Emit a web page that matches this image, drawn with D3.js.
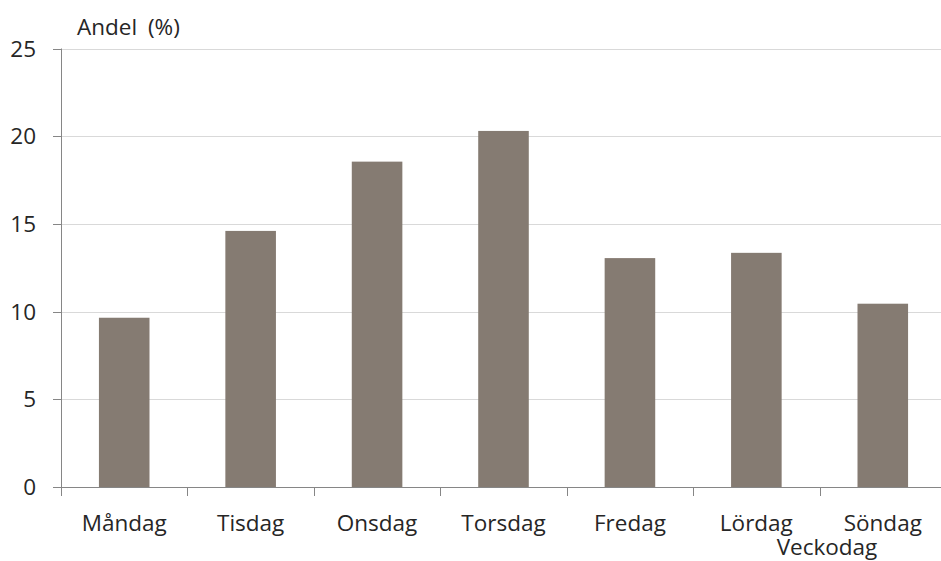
<!DOCTYPE html>
<html>
<head>
<meta charset="utf-8">
<script src="https://cdn.jsdelivr.net/npm/d3@7"></script>
<style>
  body { margin: 0; background: #fff; }
  text { font-family: "Open Sans", sans-serif; fill: #262626; }
</style>
</head>
<body>
<div id="chart"></div>
<script>
  var days = ['Måndag', 'Tisdag', 'Onsdag', 'Torsdag', 'Fredag', 'Lördag', 'Söndag'];
  var andel = [9.65, 14.6, 18.55, 20.3, 13.05, 13.35, 10.45];
  var yTicks = [0, 5, 10, 15, 20, 25];

  (function () {
    'use strict';

    var w = 941, h = 561,
        plotLeft = 61, plotRight = 946,     // plot runs a little past the window edge
        plotTop = 48.5, plotBottom = 487,
        fontSize = '22.5px',
        barColor = '#857b72',
        axisColor = '#868686';

    var svg = d3.select('#chart')
        .append('svg')
        .attr('width', w)
        .attr('height', h);

    var x = d3.scaleBand()
        .domain(days)
        .range([plotLeft, plotRight])
        .paddingInner(0.6)
        .paddingOuter(0.3);

    var y = d3.scaleLinear()
        .domain([0, 25])
        .range([plotBottom, plotTop]);

    // gridlines
    svg.append('g')
        .selectAll('line')
        .data(yTicks.slice(1))
        .enter().append('line')
        .attr('x1', plotLeft)
        .attr('x2', w)
        .attr('y1', function (d) { return Math.round(y(d)) + 0.5; })
        .attr('y2', function (d) { return Math.round(y(d)) + 0.5; })
        .attr('stroke', '#d9d9d9')
        .attr('stroke-width', 1);

    // bars
    svg.append('g')
        .selectAll('rect')
        .data(andel)
        .enter().append('rect')
        .attr('x', function (d, i) { return x(days[i]); })
        .attr('width', x.bandwidth())
        .attr('y', function (d) { return y(d); })
        .attr('height', function (d) { return plotBottom - y(d); })
        .attr('fill', barColor);

    // y axis
    var yAxis = svg.append('g');
    yAxis.append('line')
        .attr('x1', plotLeft + 0.5).attr('x2', plotLeft + 0.5)
        .attr('y1', plotTop).attr('y2', plotBottom)
        .attr('stroke', axisColor);
    yAxis.selectAll('.tick')
        .data(yTicks)
        .enter().append('line')
        .attr('class', 'tick')
        .attr('x1', plotLeft - 8).attr('x2', plotLeft)
        .attr('y1', function (d) { return Math.round(y(d)) + 0.5; })
        .attr('y2', function (d) { return Math.round(y(d)) + 0.5; })
        .attr('stroke', axisColor);
    yAxis.selectAll('text')
        .data(yTicks)
        .enter().append('text')
        .attr('x', 36)
        .attr('y', function (d) { return y(d); })
        .attr('dy', '0.36em')
        .attr('text-anchor', 'end')
        .style('font-size', fontSize)
        .text(function (d) { return d; });

    // x axis
    var xAxis = svg.append('g');
    xAxis.append('line')
        .attr('x1', plotLeft).attr('x2', w)
        .attr('y1', plotBottom + 0.5).attr('y2', plotBottom + 0.5)
        .attr('stroke', axisColor);
    xAxis.selectAll('.tick')
        .data(d3.range(days.length + 1))
        .enter().append('line')
        .attr('class', 'tick')
        .attr('x1', function (i) { return Math.round(plotLeft + i * x.step()) + 0.5; })
        .attr('x2', function (i) { return Math.round(plotLeft + i * x.step()) + 0.5; })
        .attr('y1', plotBottom).attr('y2', plotBottom + 9)
        .attr('stroke', axisColor);
    xAxis.selectAll('text')
        .data(days)
        .enter().append('text')
        .attr('x', function (d) { return x(d) + x.bandwidth() / 2; })
        .attr('y', 531)
        .attr('text-anchor', 'middle')
        .style('font-size', fontSize)
        .text(function (d) { return d; });

    // axis titles
    svg.append('text')
        .attr('x', 77)
        .attr('y', 35)
        .style('font-size', fontSize)
        .style('word-spacing', '5px')
        .text('Andel (%)');

    svg.append('text')
        .attr('x', 827)
        .attr('y', 555)
        .attr('text-anchor', 'middle')
        .style('font-size', fontSize)
        .text('Veckodag');
  })();
</script>
</body>
</html>
